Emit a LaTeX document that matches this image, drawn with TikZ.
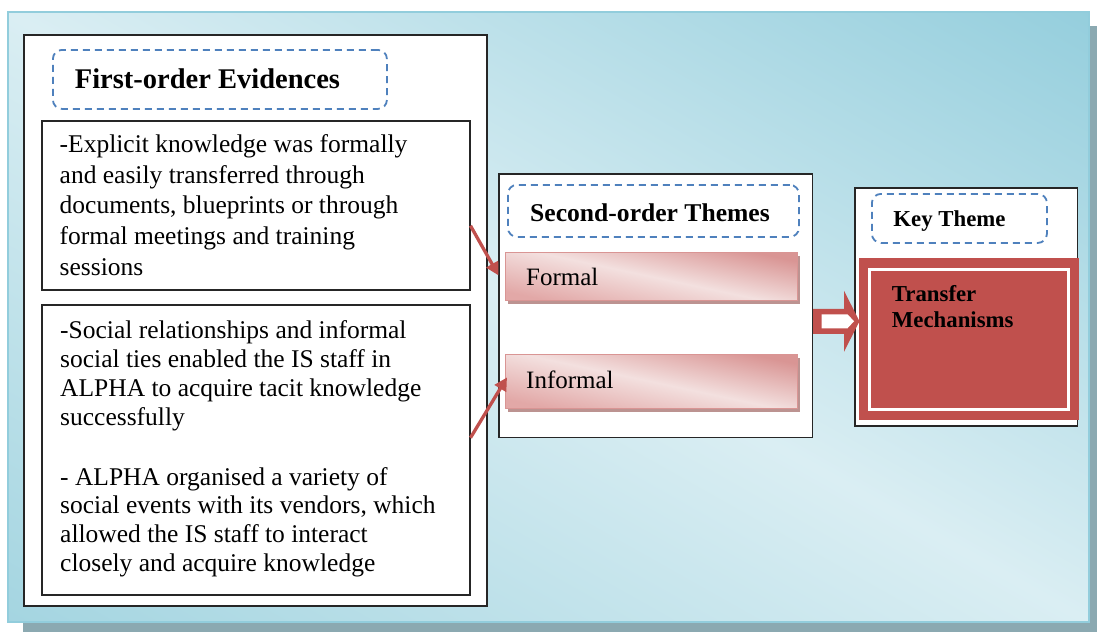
\documentclass[tikz,border=0pt]{standalone}
\usepackage{fontspec}
\setmainfont{Liberation Serif}
\usetikzlibrary{shadows,arrows.meta}

\definecolor{bgdark}{HTML}{92CDDC}
\definecolor{bgdarkb}{HTML}{A2D4E0}
\definecolor{bglight}{HTML}{DAEEF3}
\definecolor{panelshadow}{HTML}{8BA9B1}
\definecolor{dashblue}{HTML}{4F81BD}
\definecolor{accred}{HTML}{C0504D}
\definecolor{pinkdark}{HTML}{D99594}
\definecolor{pinkmid}{HTML}{E2A8A7}
\definecolor{pinklight}{HTML}{F3E0DF}
\definecolor{barshadow}{HTML}{BC9391}

% diagonal sky gradient for the panel
\pgfdeclarehorizontalshading{panelshade}{1300bp}{color(0bp)=(bgdarkb); color(550bp)=(bglight); color(1100bp)=(bgdark)}

\tikzset{
  box/.style={draw=black!85, line width=1.5pt, fill=white, inner sep=0pt, anchor=north west},
  dashbox/.style={draw=dashblue, line width=1.8pt, dash pattern=on 7pt off 5pt, rounded corners=9pt, inner sep=0pt, anchor=north west},
  bar/.style={draw=pinkdark, line width=0.8pt, inner sep=0pt, anchor=north west,
    top color=pinkdark, bottom color=pinkmid, middle color=pinklight, shading angle=-12,
    drop shadow={shadow xshift=3pt, shadow yshift=-4pt, fill=barshadow, opacity=1}},
  body/.style={font=\fontsize{25.5}{30.6}\selectfont, align=left, anchor=base west, inner sep=0pt},
  head/.style={font=\bfseries, anchor=base, inner sep=0pt},
  link/.style={draw=accred, line width=3.3pt, -{Triangle[length=13pt,width=13pt]}},
}

\begin{document}
\begin{tikzpicture}[x=1pt, y=-1pt]
\useasboundingbox (0,0) rectangle (1099,632);

% panel with its shadow
\fill[panelshadow] (23,26) rectangle (1097,632);
\begin{scope}
  \clip (8,12) rectangle (1089,622);
  \node[rotate=60.6, inner sep=0pt] at (548.5,317) {\pgfuseshading{panelshade}};
\end{scope}
\draw[bgdark, line width=1.2pt] (8,12) rectangle (1089,622);

% first-order evidences (multi-line texts are placed by their last baseline)
\node[box, minimum width=463pt, minimum height=571pt] (evid) at (23,34) {};
\node[dashbox, minimum width=334pt, minimum height=59pt] (evidhd) at (52,49) {};
\node[head, anchor=base west, font=\fontsize{28.5}{30}\selectfont\bfseries] (evidtxt) at (74.7,88.3) {First-order Evidences};
\node[box, minimum width=428pt, minimum height=169pt] (ev1) at (41,120) {};
\node[box, minimum width=428pt, minimum height=290pt] (ev2) at (41,304) {};
\node[body] (ev1txt) at (59.5,275) {-Explicit knowledge was formally\\and easily transferred through\\documents, blueprints or through\\formal meetings and training\\sessions};
\node[body, font=\fontsize{25.5}{28.9}\selectfont] (ev2txt) at (60,571.7) {-Social relationships and informal\\social ties enabled the IS staff in\\ALPHA to acquire tacit knowledge\\successfully\\[31pt]- ALPHA organised a variety of\\social events with its vendors, which\\allowed the IS staff to interact\\closely and acquire knowledge};

% second-order themes
\node[box, minimum width=313.5pt, minimum height=263.5pt] (themes) at (498,173) {};
\node[dashbox, minimum width=291pt, minimum height=52pt] (themeshd) at (507,184) {};
\node[head, font=\fontsize{25.6}{28}\selectfont\bfseries] (themestxt) at (650,221.7) {Second-order Themes};
\node[bar, minimum width=292pt, minimum height=48pt] (formal) at (505,252) {};
\node[bar, minimum width=292pt, minimum height=54pt] (informal) at (505,354) {};
\node[body, font=\fontsize{25}{28}\selectfont] (formaltxt) at (526,285) {Formal};
\node[body, font=\fontsize{25}{28}\selectfont] (informaltxt) at (526,388.3) {Informal};

% key theme
\node[box, minimum width=222.5pt, minimum height=238pt] (key) at (854,187) {};
\node[dashbox, minimum width=175pt, minimum height=49pt] (keyhd) at (871,193) {};
\node[head, font=\fontsize{22.8}{25}\selectfont\bfseries] (keytxt) at (949.5,226.7) {Key Theme};
\node[fill=accred, inner sep=0pt, anchor=north west, minimum width=220pt, minimum height=162pt] (mech) at (859,258) {};
\draw[white, line width=3pt] (869,269) rectangle (1068,409);
\node[body, font=\fontsize{22.8}{25.3}\selectfont\bfseries] (mechtxt) at (891.7,327) {Transfer\\Mechanisms};

% links from the evidences to the themes
\draw[link] ([yshift=-20.5pt]ev1.east) -- ([xshift=-6.5pt,yshift=1pt]formal.west);
\draw[link] ([yshift=12pt]ev2.east) -- ([xshift=2pt,yshift=4pt]informal.west);

% block arrow from the themes to the key theme
\coordinate (bs) at ([yshift=-15.75pt]themes.east);
\fill[accred] (bs) ++(0,-12.5) -- ++(31,0) -- ++(0,-18) -- ++(15.5,30.5) -- ++(-15.5,30.5) -- ++(0,-18) -- ++(-31,0) -- cycle;
\fill[white] (bs) ++(8.5,-7) -- ++(26,0) -- ++(6.5,7) -- ++(-6.5,7) -- ++(-26,0) -- cycle;
\end{tikzpicture}
\end{document}
